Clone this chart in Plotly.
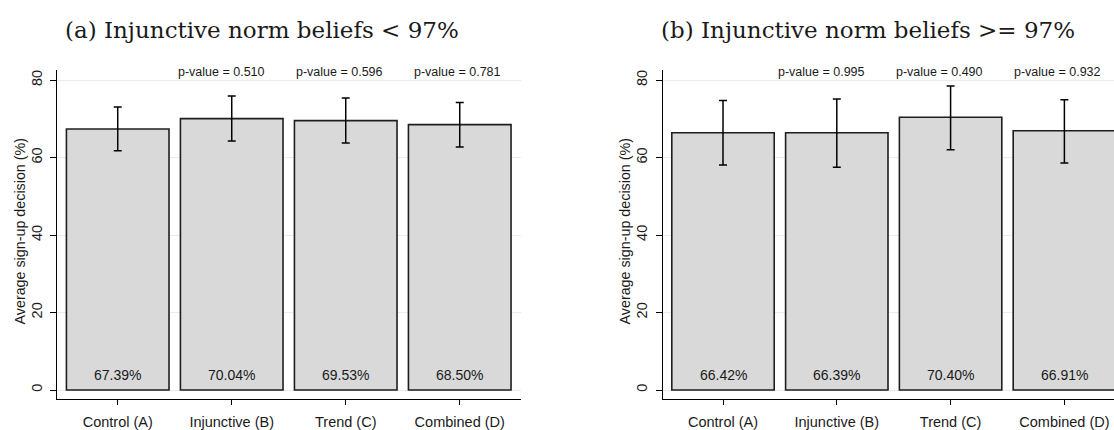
import plotly.graph_objects as go

# ---------------- data ----------------
categories = ["Control (A)", "Injunctive (B)", "Trend (C)", "Combined (D)"]

a_title = "(a) Injunctive norm beliefs < 97%"
a_mean = [67.39, 70.04, 69.53, 68.50]
a_ci_lo = [61.77, 64.26, 63.74, 62.71]
a_ci_hi = [73.03, 75.87, 75.35, 74.24]
a_labels = ["67.39%", "70.04%", "69.53%", "68.50%"]
a_pvalues = ["0.510", "0.596", "0.781"]

b_title = "(b) Injunctive norm beliefs >= 97%"
b_mean = [66.42, 66.39, 70.40, 66.91]
b_ci_lo = [58.10, 57.50, 62.00, 58.60]
b_ci_hi = [74.70, 75.10, 78.45, 74.90]
b_labels = ["66.42%", "66.39%", "70.40%", "66.91%"]
b_pvalues = ["0.995", "0.490", "0.932"]

y_title = "Average sign-up decision (%)"
y_ticks = [0, 20, 40, 60, 80]

# ---------------- figure ----------------
W, H = 1114, 430
SANS = "Liberation Sans, Arial, sans-serif"
SERIF = "DejaVu Serif, serif"

fig = go.Figure()

panels = [
    dict(mean=a_mean, lo=a_ci_lo, hi=a_ci_hi, labels=a_labels, pv=a_pvalues,
         title=a_title, xa="x", ya="y", xaxis="xaxis", yaxis="yaxis",
         dom=[57.3 / W, 521.3 / W], xr=[-0.53, 3.54], title_x=262 / W,
         pshift=-6, ytitle_x=19 / W),
    dict(mean=b_mean, lo=b_ci_lo, hi=b_ci_hi, labels=b_labels, pv=b_pvalues,
         title=b_title, xa="x2", ya="y2", xaxis="xaxis2", yaxis="yaxis2",
         dom=[662.7 / W, 1.0], xr=[-0.53, 3.436], title_x=868 / W,
         pshift=-11, ytitle_x=624 / W),
]

ydom = [(H - 399.3) / H, (H - 70) / H]
annotations = []

for p in panels:
    up = [h - m for h, m in zip(p["hi"], p["mean"])]
    dn = [m - l for m, l in zip(p["mean"], p["lo"])]
    fig.add_trace(go.Bar(
        x=categories, y=p["mean"], xaxis=p["xa"], yaxis=p["ya"],
        width=0.9,
        marker=dict(color="#d9d9d9", line=dict(color="#1e1e1e", width=1.6)),
        error_y=dict(type="data", symmetric=False, array=up, arrayminus=dn,
                     color="black", thickness=1.5, width=4),
        showlegend=False, hoverinfo="skip",
    ))
    fig.update_layout(**{
        p["xaxis"]: dict(
            domain=p["dom"], anchor=p["ya"], range=p["xr"], type="category",
            showline=True, linecolor="black", linewidth=1, mirror=False,
            ticks="outside", ticklen=5, tickwidth=1, tickcolor="black",
            ticklabelstandoff=4,
            showgrid=False, zeroline=False, automargin=False,
            showspikes=False,
            tickfont=dict(family=SANS, size=14.5, color="#1a1a1a"),
        ),
        p["yaxis"]: dict(
            domain=ydom, anchor=p["xa"], range=[-2.4, 82.6],
            tickvals=y_ticks, tickangle=-90, ticklabelstandoff=3,
            showline=True, linecolor="black", linewidth=1, mirror=False,
            ticks="outside", ticklen=6, tickwidth=1, tickcolor="black",
            showgrid=True, gridcolor="#ebebeb", gridwidth=1,
            zeroline=False, automargin=False, showspikes=False,
            tickfont=dict(family=SANS, size=14.5, color="#1a1a1a"),
        ),
    })
    # value labels inside bars
    for c, lab in zip(categories, p["labels"]):
        annotations.append(dict(
            x=c, y=3.9, xref=p["xa"], yref=p["ya"], text=lab, showarrow=False,
            font=dict(family=SANS, size=14, color="#1a1a1a"),
            xanchor="center", yanchor="middle"))
    # p-values over bars B, C, D
    for c, pv in zip(categories[1:], p["pv"]):
        idx = categories.index(c)
        annotations.append(dict(
            x=categories[2], y=82.1, xref=p["xa"], yref=p["ya"],
            text="p-value = " + pv, showarrow=False,
            xshift=(idx - 2) * 118 + p["pshift"],
            font=dict(family=SANS, size=12.5, color="#1a1a1a"),
            xanchor="center", yanchor="middle"))
    # panel title
    annotations.append(dict(
        x=p["title_x"], y=(H - 30) / H, xref="paper", yref="paper",
        text=p["title"], showarrow=False,
        font=dict(family=SERIF, size=23, color="#1a1a1a"),
        xanchor="center", yanchor="middle"))
    # y-axis title
    annotations.append(dict(
        x=p["ytitle_x"], y=(H - 231.5) / H, xref="paper", yref="paper",
        text=y_title, showarrow=False, textangle=-90,
        font=dict(family=SANS, size=14.3, color="#1a1a1a"),
        xanchor="center", yanchor="middle"))

fig.update_layout(
    width=W, height=H, template="none",
    margin=dict(l=0, r=0, t=0, b=0),
    paper_bgcolor="white", plot_bgcolor="white",
    bargap=0.1, annotations=annotations, showlegend=False,
)

fig.write_html("out.html", config={"displayModeBar": False})
